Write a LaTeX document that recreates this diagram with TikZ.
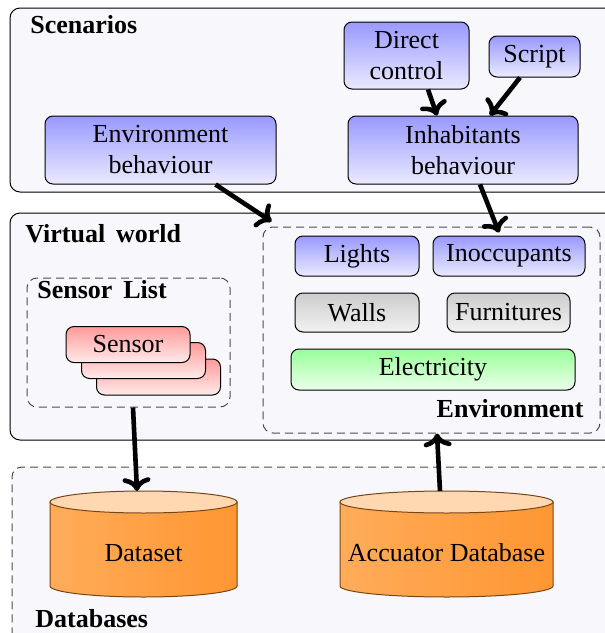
\documentclass[tikz,border=0pt]{standalone}
\usepackage{fontspec}
\setmainfont{Liberation Serif}
\usetikzlibrary{arrows.meta}
\definecolor{contfill}{RGB}{248,248,252}
\definecolor{cylL}{RGB}{255,172,90}
\definecolor{cylM}{RGB}{255,206,152}
\definecolor{cylR}{RGB}{255,150,50}
\definecolor{cylTop}{RGB}{255,216,178}
\definecolor{cylLine}{RGB}{120,70,20}
\begin{document}
\begin{tikzpicture}[x=0.5pt,y=-0.5pt,
  txt/.style={font=\fontsize{13}{15.5}\selectfont},
  lbl/.style={font=\fontsize{13}{15.5}\selectfont\bfseries, inner sep=0pt},
  box/.style={draw, rounded corners=4pt, align=center, inner sep=0pt, line width=0.5pt, txt},
  bluebox/.style={box, top color=blue!40, bottom color=blue!8},
  graybox/.style={box, top color=black!20, bottom color=black!5},
  greenbox/.style={box, top color=green!40, bottom color=green!8},
  redbox/.style={box, top color=red!40, bottom color=red!8},
  container/.style={draw, rounded corners=5pt, fill=contfill, inner sep=0pt, line width=0.5pt},
  dcont/.style={draw=black!70, dash pattern=on 4pt off 2.5pt, rounded corners=5pt, inner sep=0pt, line width=0.5pt},
  arr/.style={->, line width=2.3pt},
  cyl/.style={draw=cylLine, line width=0.5pt, left color=cylL, middle color=cylM, right color=cylR},
  cyltop/.style={draw=cylLine, line width=0.5pt, fill=cylTop}
]
\useasboundingbox (0,0) rectangle (605,633);
\clip (0,0) rectangle (605,633);

% containers
\node[container, minimum width=305pt, minimum height=92pt] (scen) at (315,100) {};
\node[container, minimum width=305pt, minimum height=113.5pt] (vw) at (315,326.5) {};
\node[dcont, fill=contfill, minimum width=304pt, minimum height=89pt] (db) at (316,556) {};
\node[dcont, minimum width=101.5pt, minimum height=64.5pt] (sl) at (128.5,342.5) {};
\node[dcont, minimum width=168.5pt, minimum height=103pt] (env) at (431.5,330) {};

% labels
\node[lbl, anchor=base west] (lscen) at (30,33) {Scenarios};
\node[lbl, anchor=base west] (lvw) at (25,242) {Virtual\ \,world};
\node[lbl, anchor=base west] (lsl) at (37,298) {Sensor\ \,List};
\node[lbl, anchor=base east] (lenv) at (584,417) {Environment};
\node[lbl, anchor=base west] (ldb) at (35,627) {Databases};

% scenario boxes
\node[bluebox, minimum width=62.5pt, minimum height=33.5pt] (dc) at (406.5,55.5) {Direct\\control};
\node[bluebox, minimum width=45.5pt, minimum height=20.5pt] (sc) at (534.5,56.5) {Script};
\node[bluebox, minimum width=115.5pt, minimum height=34pt] (eb) at (160.5,150) {Environment\\behaviour};
\node[bluebox, minimum width=115pt, minimum height=34pt] (ib) at (463,150) {Inhabitants\\behaviour};

% environment boxes
\node[bluebox, minimum width=62pt, minimum height=20pt] (lights) at (357,256) {Lights};
\node[bluebox, minimum width=76pt, minimum height=20pt] (inocc) at (509,256) {Inoccupants};
\node[graybox, minimum width=62pt, minimum height=19.5pt] (walls) at (357,312.5) {Walls};
\node[graybox, minimum width=61.5pt, minimum height=19.5pt] (furn) at (508.5,312.5) {Furnitures};
\node[greenbox, minimum width=142pt, minimum height=20.5pt] (elec) at (433,369.5) {Electricity};

% sensor stack
\node[redbox, minimum width=62pt, minimum height=18pt] (s3) at (158.5,377) {};
\node[redbox, minimum width=62pt, minimum height=18pt] (s2) at (143.5,360.5) {};
\node[redbox, minimum width=62pt, minimum height=18pt] (s1) at (128,344.5) {Sensor};

% cylinders
\draw[cyl] (50,502) -- (50,586) arc[start angle=180,end angle=0,x radius=93.5,y radius=11] -- (237,502) -- cycle;
\draw[cyltop] (143.5,502) ellipse [x radius=93.5, y radius=11];
\node[txt] (ds) at (143.5,553) {Dataset};
\coordinate (dstop) at (137,491);

\draw[cyl] (340,502) -- (340,586) arc[start angle=180,end angle=0,x radius=106.5,y radius=11] -- (553,502) -- cycle;
\draw[cyltop] (446.5,502) ellipse [x radius=106.5, y radius=11];
\node[txt] (ad) at (446.5,553) {Accuator Database};
\coordinate (adtop) at (440,491);

% arrows
\draw[arr] ([xshift=10.75pt]dc.south) -- ([xshift=-13pt]ib.north);
\draw[arr] ([xshift=-7.25pt]sc.south) -- ([xshift=13.5pt]ib.north);
\draw[arr] ([xshift=27.5pt]eb.south) -- ([shift={(4.5pt,2.5pt)}]env.north west);
\draw[arr] ([xshift=8.5pt]ib.south) -- ([shift={(-5pt,1.5pt)}]inocc.north);
\draw[arr] ([xshift=2.25pt]sl.south) -- (dstop);
\draw[arr] (adtop) -- ([xshift=2.75pt]env.south);
\end{tikzpicture}
\end{document}
